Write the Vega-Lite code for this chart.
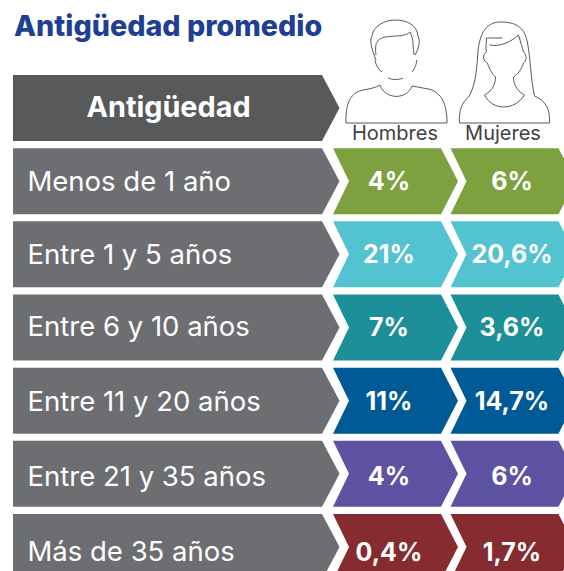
{
"$schema":"https://vega.github.io/schema/vega-lite/v6.json",
"width":564,"height":526,
"autosize":{"type":"none"},
"padding":{"left":0,"top":45,"right":0,"bottom":0},
"background":"white",
"view":{"stroke":null},
"title":{"text":"Antigüedad promedio","anchor":"start","frame":"group","offset":-24,"dx":14,"font":"Inter","fontSize":28.7,"fontWeight":800,"color":"#1f3f92"},
"data":{"values":[
{"rango":"Antigüedad","columna":"Antigüedad","texto":"Antigüedad"},
{"rango":"Antigüedad","columna":"Hombres","texto":"Hombres"},
{"rango":"Antigüedad","columna":"Mujeres","texto":"Mujeres"},
{"rango":"Menos de 1 año","columna":"Antigüedad","texto":"Menos de 1 año"},
{"rango":"Menos de 1 año","columna":"Hombres","texto":"4%"},
{"rango":"Menos de 1 año","columna":"Mujeres","texto":"6%"},
{"rango":"Entre 1 y 5 años","columna":"Antigüedad","texto":"Entre 1 y 5 años"},
{"rango":"Entre 1 y 5 años","columna":"Hombres","texto":"21%"},
{"rango":"Entre 1 y 5 años","columna":"Mujeres","texto":"20,6%"},
{"rango":"Entre 6 y 10 años","columna":"Antigüedad","texto":"Entre 6 y 10 años"},
{"rango":"Entre 6 y 10 años","columna":"Hombres","texto":"7%"},
{"rango":"Entre 6 y 10 años","columna":"Mujeres","texto":"3,6%"},
{"rango":"Entre 11 y 20 años","columna":"Antigüedad","texto":"Entre 11 y 20 años"},
{"rango":"Entre 11 y 20 años","columna":"Hombres","texto":"11%"},
{"rango":"Entre 11 y 20 años","columna":"Mujeres","texto":"14,7%"},
{"rango":"Entre 21 y 35 años","columna":"Antigüedad","texto":"Entre 21 y 35 años"},
{"rango":"Entre 21 y 35 años","columna":"Hombres","texto":"4%"},
{"rango":"Entre 21 y 35 años","columna":"Mujeres","texto":"6%"},
{"rango":"Más de 35 años","columna":"Antigüedad","texto":"Más de 35 años"},
{"rango":"Más de 35 años","columna":"Hombres","texto":"0,4%"},
{"rango":"Más de 35 años","columna":"Mujeres","texto":"1,7%"}
]},
"encoding":{
"x":{"field":"columna","type":"nominal","axis":null,"scale":{"type":"point","domain":["Antigüedad","Hombres","Mujeres"],"range":[277.5,512.5],"padding":0}},
"y":{"field":"rango","type":"nominal","axis":null,"scale":{"type":"point","domain":["Antigüedad","Menos de 1 año","Entre 1 y 5 años","Entre 6 y 10 años","Entre 11 y 20 años","Entre 21 y 35 años","Más de 35 años"],"range":[63,502],"padding":0}}
},
"layer":[
{"transform":[{"filter":"datum.columna=='Antigüedad'"}],
 "mark":{"type":"point","filled":true,"size":4,"opacity":1,"strokeWidth":0,"shape":"M-264.5 -33 L44.5 -33 L62 0 L44.5 33 L-264.5 33 Z"},
 "encoding":{"color":{"condition":{"test":"datum.rango=='Antigüedad'","value":"#58595b"},"value":"#6d6e71"}}},
{"transform":[{"filter":"datum.columna!='Antigüedad' && datum.rango!='Antigüedad'"}],
 "mark":{"type":"point","filled":true,"size":4,"opacity":1,"strokeWidth":0,"shape":"M-62 -33 L46 -33 L63 0 L46 33 L-62 33 L-46 0 Z"},
 "encoding":{"color":{"field":"rango","type":"nominal","legend":null,"scale":{"domain":["Menos de 1 año","Entre 1 y 5 años","Entre 6 y 10 años","Entre 11 y 20 años","Entre 21 y 35 años","Más de 35 años"],"range":["#7da13f","#53c2d1","#1d8f98","#005a96","#5e52a3","#862c30"]}}}},
{"transform":[{"filter":"datum.rango=='Antigüedad' && datum.columna=='Hombres'"}],
 "mark":{"type":"point","filled":false,"size":4,"opacity":1,"stroke":"#58595b","strokeWidth":1,"shape":"M-19 -48 C-23 -58 -26 -68 -23 -72 C-22 -82 -10 -88 0 -88 C12 -88 22 -83 23 -72 C26 -66 23 -58 20 -53 M-19 -53 C-20 -60 -19 -65 -18 -66 C-14 -72 -8 -71 0 -72 C6 -72 12 -73 15 -76 C17 -72 18 -68 18 -65 C18 -60 19 -56 19 -53 M-20 -48 C-19 -42 -16 -38 -13 -36 M22 -48 C21 -42 19 -38 17 -36 M-7 -30 C-3 -28 4 -28 8 -30 M-49 15 L52 15 C52 -5 46 -15 35 -18.7 L17 -22 C12 -8 -10 -8 -15 -23 C-20 -20 -26 -19 -32 -18 C-42 -16 -50 -8 -49 15 Z"}},
{"transform":[{"filter":"datum.rango=='Antigüedad' && datum.columna=='Mujeres'"}],
 "mark":{"type":"point","filled":false,"size":4,"opacity":1,"stroke":"#58595b","strokeWidth":1,"shape":"M-44 -11 C-38 -20 -36 -35 -35 -50 C-34 -72 -28 -86 -12 -86 C2 -86 12 -82 15 -65 C18 -50 18 -30 22 -12 M-53 15 C-54 2 -50 -6 -44 -11 M-53 15 L37 15 C38 0 32 -8 22 -12 M-28 -13 C-20 3 2 3 12 -13 M-17 -31 C-17 -25 -19 -18 -28 -13 M1 -31 C1 -25 3 -18 12 -13 M-26 -56 C-27 -62 -26 -66 -26 -70 C-20 -70 -14 -70 -10 -70 M-23 -63 C-12 -61 -2 -66 6 -73 C8 -66 10 -60 11 -56 M-26 -56 C-31 -52 -29 -47 -25 -45 C-23 -38 -20 -34 -17 -31 M11 -56 C15 -52 14 -47 11 -45 C9 -38 5 -34 1 -31"}},
{"transform":[{"filter":"datum.columna=='Antigüedad' && datum.rango!='Antigüedad'"}],
 "mark":{"type":"text","align":"left","baseline":"middle","dx":-250,"dy":{"expr":"datum.rango=='Más de 35 años'?6:datum.rango=='Entre 21 y 35 años'?4.5:datum.rango=='Entre 6 y 10 años'?0.5:2"},"font":"Inter","fontSize":27.5,"fontWeight":400,"color":"white"},
 "encoding":{"text":{"field":"texto"}}},
{"transform":[{"filter":"datum.columna=='Antigüedad' && datum.rango=='Antigüedad'"}],
 "mark":{"type":"text","align":"center","baseline":"middle","dx":-109,"dy":0,"font":"Inter","fontSize":28.8,"fontWeight":700,"color":"white"},
 "encoding":{"text":{"field":"texto"}}},
{"transform":[{"filter":"datum.columna=='Hombres' && datum.rango!='Antigüedad'"}],
 "mark":{"type":"text","align":"center","baseline":"middle","dx":-6,"dy":{"expr":"datum.rango=='Más de 35 años'?6:datum.rango=='Entre 21 y 35 años'?3.5:datum.rango=='Entre 6 y 10 años'?0:1"},"font":"Inter","fontSize":25,"fontWeight":700,"color":"white"},
 "encoding":{"text":{"field":"texto"}}},
{"transform":[{"filter":"datum.columna=='Mujeres' && datum.rango!='Antigüedad'"}],
 "mark":{"type":"text","align":"center","baseline":"middle","dx":-0.5,"dy":{"expr":"datum.rango=='Más de 35 años'?6:datum.rango=='Entre 21 y 35 años'?3.5:datum.rango=='Entre 6 y 10 años'?0:1"},"font":"Inter","fontSize":25,"fontWeight":700,"color":"white"},
 "encoding":{"text":{"field":"texto"}}},
{"transform":[{"filter":"datum.columna=='Hombres' && datum.rango=='Antigüedad'"}],
 "mark":{"type":"text","align":"center","baseline":"middle","dy":26,"font":"Inter","fontSize":20,"fontWeight":400,"color":"#414042"},
 "encoding":{"text":{"field":"texto"}}},
{"transform":[{"filter":"datum.columna=='Mujeres' && datum.rango=='Antigüedad'"}],
 "mark":{"type":"text","align":"center","baseline":"middle","dx":-9.5,"dy":26,"font":"Inter","fontSize":20,"fontWeight":400,"color":"#414042"},
 "encoding":{"text":{"field":"texto"}}}
]
}
